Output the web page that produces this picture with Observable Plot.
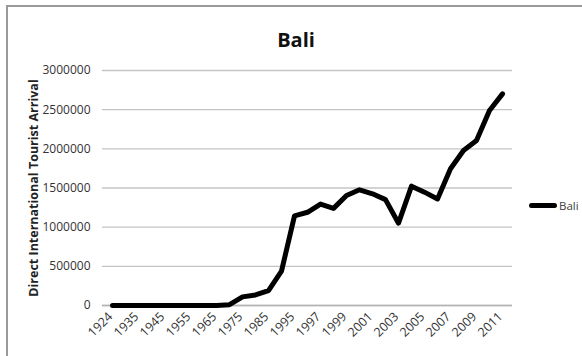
<!DOCTYPE html>
<html>
<head>
<meta charset="utf-8">
<script src="https://cdn.jsdelivr.net/npm/d3@7"></script>
<script src="https://cdn.jsdelivr.net/npm/@observablehq/plot@0.6"></script>
<style>
  html, body { margin: 0; padding: 0; background: #fff; }
  #wrap { position: relative; width: 582px; height: 356px; overflow: hidden; font-family: "Open Sans", "Liberation Sans", sans-serif; }
  #frame { position: absolute; left: 6px; top: 5px; width: 600px; height: 400px; border: 2px solid #9a9a9a; box-sizing: border-box; }
  #title { position: absolute; left: 0; width: 592px; top: 26px; text-align: center; font-size: 20px; font-weight: bold; color: #111; }
  #ylabel { position: absolute; left: 33px; top: 188px; transform: translate(-50%, -50%) rotate(-90deg); white-space: nowrap; font-size: 12.5px; font-weight: bold; color: #222; }
  #legend { position: absolute; left: 529px; top: 198px; display: flex; align-items: center; font-size: 11.5px; color: #404040; }
  #legend .sw { width: 28px; height: 5px; background: #000; border-radius: 3px; margin-right: 2px; }
  #chart { position: absolute; left: 0; top: 0; }
</style>
</head>
<body>
<div id="wrap">
  <div id="frame"></div>
  <div id="chart"></div>
  <div id="title">Bali</div>
  <div id="ylabel">Direct International Tourist Arrival</div>
  <div id="legend"><div class="sw"></div><span>Bali</span></div>
</div>
<script>
const years = ["1924","1930","1935","1940","1945","1950","1955","1960","1965","1970","1975","1980","1985","1990","1995","1996","1997","1998","1999","2000","2001","2002","2003","2004","2005","2006","2007","2008","2009","2010","2011"];
const arrivals = [0,0,0,0,0,0,0,0,0,10000,110000,135000,190000,438000,1145000,1190000,1295000,1240000,1405000,1477000,1426000,1352000,1051000,1523000,1447000,1360000,1745000,1979000,2106000,2489000,2702000];
const yTicks = [0,500000,1000000,1500000,2000000,2500000,3000000];
const xTickLabels = ["1924","1935","1945","1955","1965","1975","1985","1995","1997","1999","2001","2003","2005","2007","2009","2011"];

const data = years.map((y, i) => ({year: y, value: arrivals[i]}));

const chart = Plot.plot({
  width: 582,
  height: 356,
  marginLeft: 102,
  marginRight: 70,
  marginTop: 70,
  marginBottom: 51,
  style: {fontFamily: "'Open Sans', 'Liberation Sans', sans-serif", fontSize: "12px", color: "#333", background: "transparent"},
  x: {type: "point", domain: years, padding: 0.5},
  y: {domain: [0, 3000000]},
  marks: [
    Plot.gridY(yTicks, {stroke: "#c4c4c4", strokeOpacity: 1, strokeWidth: 1.3}),
    Plot.ruleY([0], {stroke: "#b4b4b4", strokeWidth: 1.5}),
    Plot.axisY({ticks: yTicks, tickSize: 0, tickPadding: 12, tickFormat: d => String(d), label: null, fontSize: 12}),
    Plot.axisX({ticks: xTickLabels, tickSize: 0, tickPadding: 9, tickRotate: -45, label: null, fontSize: 12.5, dx: -2}),
    Plot.line(data, {x: "year", y: "value", stroke: "#000", strokeWidth: 5, strokeLinejoin: "round", strokeLinecap: "round"})
  ]
});
document.getElementById("chart").appendChild(chart);
</script>
</body>
</html>
